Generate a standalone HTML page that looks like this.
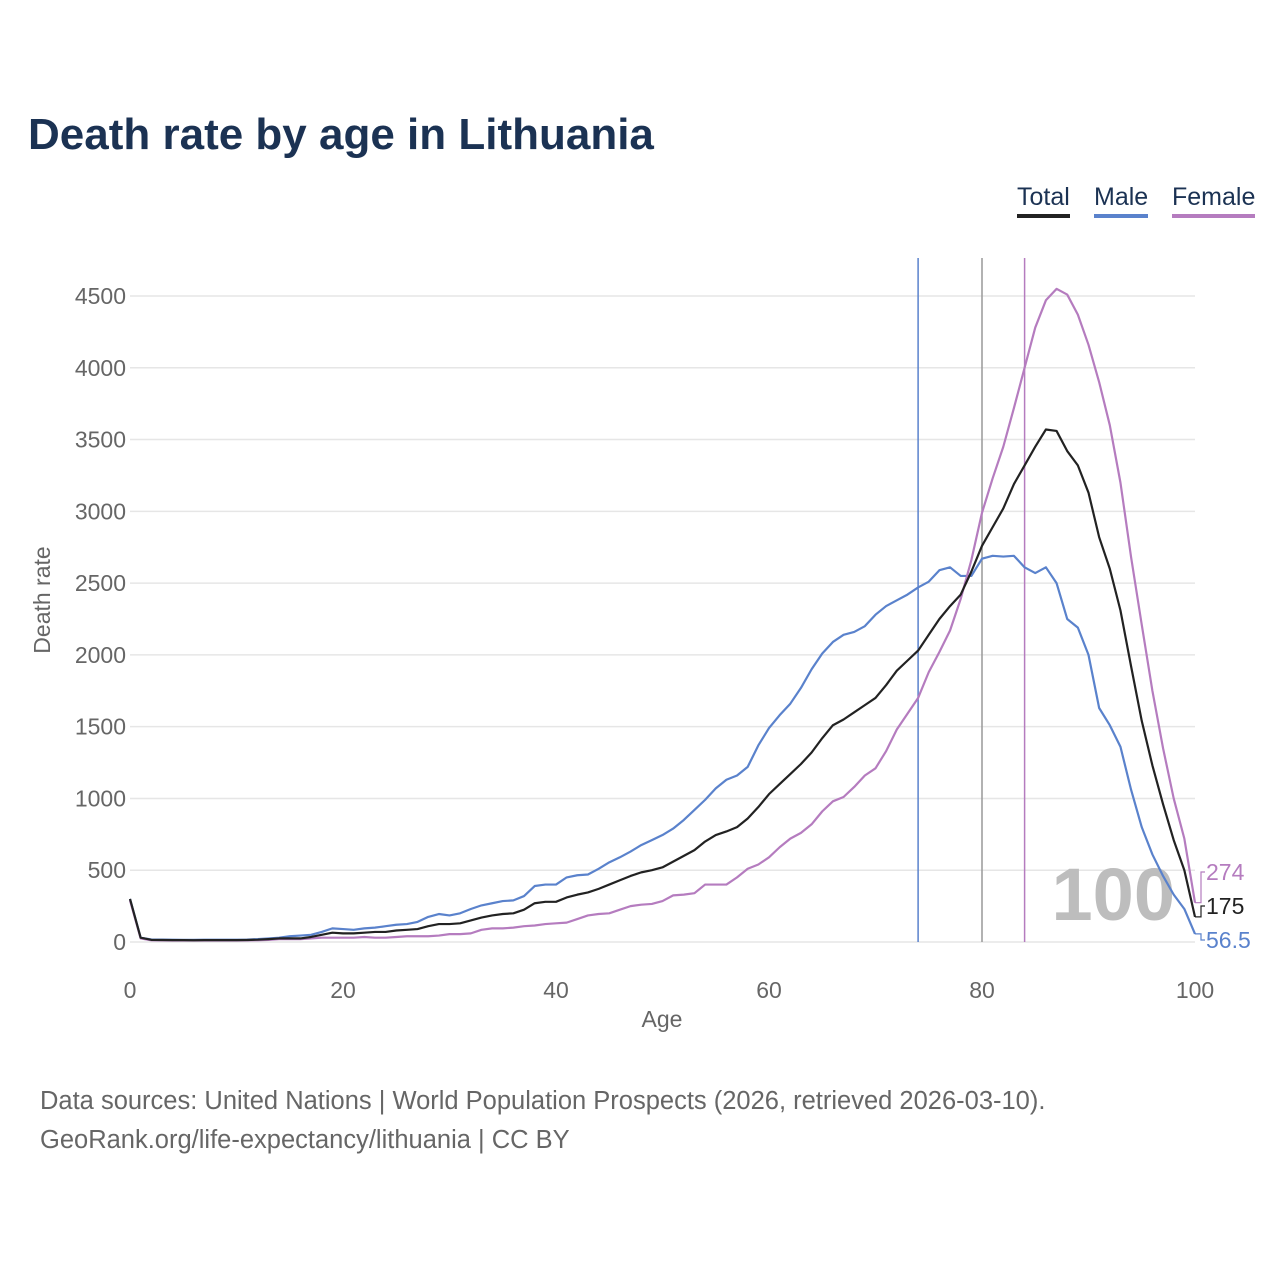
<!DOCTYPE html>
<html><head><meta charset="utf-8"><style>
body{margin:0;background:#fff;font-family:"Liberation Sans",sans-serif;}
#wrap{position:relative;width:1280px;height:1280px;}
h1{position:absolute;left:28px;top:110px;margin:0;font-size:44px;font-weight:bold;color:#1b3253;letter-spacing:0px;}
.lg{position:absolute;top:183px;font-size:25px;color:#1b3253;padding-bottom:2px;}
.src{position:absolute;left:40px;font-size:25.5px;color:#666;}
</style></head><body>
<div id="wrap">
<h1>Death rate by age in Lithuania</h1>
<div class="lg" style="left:1017px;border-bottom:4px solid #222">Total</div>
<div class="lg" style="left:1094px;border-bottom:4px solid #5a82cc">Male</div>
<div class="lg" style="left:1172px;border-bottom:4px solid #b57cbf">Female</div>
<svg id="chart" width="1280" height="1280" style="position:absolute;left:0;top:0"></svg>
<div class="src" style="top:1087px">Data sources: United Nations | World Population Prospects (2026, retrieved 2026-03-10).</div>
<div class="src" style="top:1126px">GeoRank.org/life-expectancy/lithuania | CC BY</div>
</div>
<script>
const yTicks=[0,500,1000,1500,2000,2500,3000,3500,4000,4500];
const xTicks=[0,20,40,60,80,100];
const lifeExp={male:74,total:80,female:84};
const male=[300,30,18,17,16,15,15,16,16,16,16,17,20,25,30,40,45,50,70,95,90,85,95,100,110,120,125,140,175,195,185,200,230,255,270,285,290,320,390,400,400,450,465,470,510,555,590,630,675,710,745,790,850,920,990,1070,1130,1160,1220,1370,1490,1580,1660,1770,1900,2010,2090,2140,2160,2200,2280,2340,2380,2420,2470,2510,2590,2610,2550,2550,2670,2690,2685,2690,2610,2570,2610,2500,2250,2190,2000,1630,1510,1360,1060,800,610,460,330,230,56.5];
const total=[300,30,15,14,13,13,12,13,13,13,13,14,16,20,25,25,25,35,50,65,60,60,65,70,70,80,85,90,110,125,125,130,150,170,185,195,200,225,270,280,280,310,330,345,370,400,430,460,485,500,520,560,600,640,700,745,770,800,860,940,1030,1100,1170,1240,1320,1420,1510,1550,1600,1650,1700,1790,1890,1960,2030,2140,2250,2340,2420,2580,2760,2890,3020,3190,3320,3450,3570,3560,3420,3320,3130,2820,2600,2310,1920,1540,1230,960,710,500,175];
const female=[290,25,12,11,10,10,10,10,10,10,10,11,12,15,20,20,20,25,30,30,30,30,35,30,30,35,40,40,40,45,55,55,60,85,95,95,100,110,115,125,130,135,160,185,195,200,225,250,260,265,285,325,330,340,400,400,400,450,510,540,590,660,720,760,820,910,980,1010,1080,1160,1210,1330,1480,1590,1700,1880,2020,2170,2390,2660,2990,3230,3450,3720,4000,4280,4470,4550,4510,4370,4160,3900,3600,3200,2680,2210,1750,1350,1000,720,274];
const svg=document.getElementById('chart');const NS='http://www.w3.org/2000/svg';
const X=a=>130+a*10.65, Y=v=>942-v*0.143556;
function mk(t,at,p){const e=document.createElementNS(NS,t);for(const k in at)e.setAttribute(k,at[k]);(p||svg).appendChild(e);return e;}
yTicks.forEach(v=>{
 const g=mk('line',{x1:130,x2:1195,y1:Y(v),y2:Y(v),stroke:'#e6e6e6','stroke-width':1.5});
 
 
 const t=mk('text',{x:126,y:Y(v)+8,'text-anchor':'end','font-size':23,fill:'#666'});t.textContent=v;
 
 
});
xTicks.forEach(v=>{
 const t=mk('text',{x:X(v),y:998,'text-anchor':'middle','font-size':23,fill:'#666'});t.textContent=v;
 
 
});
let t=mk('text',{x:662,y:1027,'text-anchor':'middle','font-size':23,fill:'#666'});t.textContent='Age';


t=mk('text',{x:0,y:0,transform:'translate(50,600) rotate(-90)','text-anchor':'middle','font-size':23,fill:'#666'});t.textContent='Death rate';


t=mk('text',{x:1175,y:920,'text-anchor':'end','font-size':74,'font-weight':'bold',fill:'#bdbdbd'});t.textContent='100';


[['male','#5a82cc'],['total','#999'],['female','#b57cbf']].forEach(([k,c])=>{
 const l=mk('line',{x1:X(lifeExp[k]),x2:X(lifeExp[k]),y1:258,y2:942,stroke:c,'stroke-width':1.5});
 
 
});
[[male,'#5a82cc','male'],[female,'#b57cbf','female'],[total,'#222','total']].forEach(([d,c,n])=>{
 const p=mk('polyline',{points:d.map((v,i)=>X(i)+','+Y(v)).join(' '),fill:'none',stroke:c,'stroke-width':2.2,'stroke-linejoin':'round'});
 
 
});
[[female,'#b57cbf',872,'female'],[total,'#222',906,'total'],[male,'#5a82cc',940,'male']].forEach(([d,c,ly,n])=>{
 const v=d[100],y=Y(v);
 const p=mk('polyline',{points:`${X(100)},${y} 1201,${y} 1201,${ly} 1205,${ly}`,fill:'none',stroke:c,'stroke-width':1.2});
 
 
 const tt=mk('text',{x:1206,y:ly+8,'font-size':23,fill:c});tt.textContent=v;
 
 
});
</script>
</body></html>
